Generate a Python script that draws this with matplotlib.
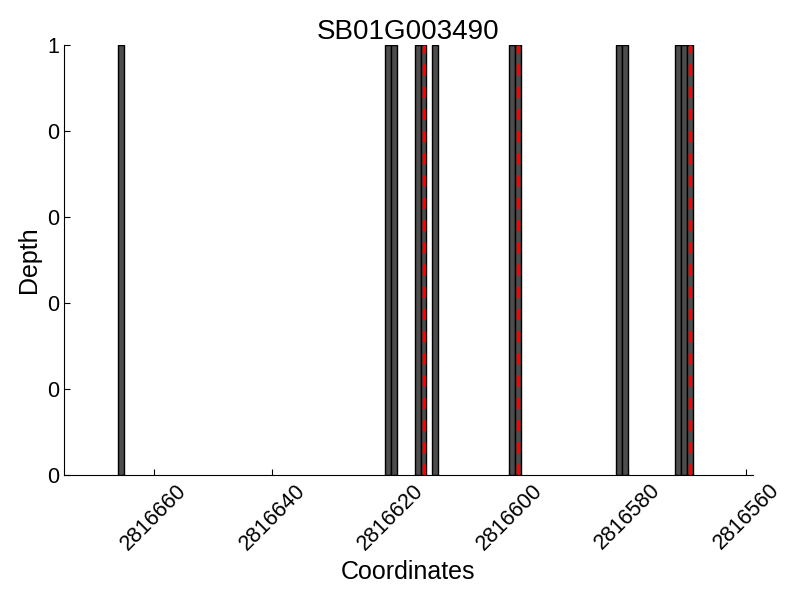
import numpy as np
import matplotlib
matplotlib.use("Agg")
import matplotlib.pyplot as plt
from matplotlib.ticker import FormatStrFormatter

plt.rcParams['font.family'] = ['Liberation Sans', 'DejaVu Sans']

# Données : positions couvertes (profondeur 1) et variants
positions = [2816665, 2816620, 2816619, 2816615, 2816614, 2816612,
             2816599, 2816598, 2816581, 2816580, 2816571, 2816570, 2816569]
depth = [1, 1, 1, 1, 1, 1, 1, 1, 1, 1, 1, 1, 1]
variants = [2816614, 2816598, 2816569]
xticks = [2816660, 2816640, 2816620, 2816600, 2816580, 2816560]
gene = "SB01G003490"

fig = plt.figure(figsize=(8, 6), dpi=100)
ax = fig.add_axes([0.08, 0.2083, 0.861, 0.7167])

ax.bar(positions, depth, width=1, align='edge',
       color='#4d4d4d', edgecolor='black', linewidth=1)
for v in variants:
    ax.axvline(v + 0.5, color='red', linestyle='--', linewidth=2,
               dashes=(4, 4))

ax.set_xlim(2816675.2, 2816558.9)
ax.set_ylim(0, 1)
ax.set_xticks(xticks)
ax.set_xticklabels([str(t) for t in xticks], rotation=45, fontsize=15.5)
ax.set_yticks(np.linspace(0, 1, 6))
ax.yaxis.set_major_formatter(FormatStrFormatter('%d'))
ax.tick_params(axis='y', labelsize=15.5)
ax.tick_params(direction='in', length=4, top=False, right=False)

ax.spines['top'].set_visible(False)
ax.spines['right'].set_visible(False)

ax.set_title(gene, fontsize=20, pad=3)
ax.set_xlabel("Coordinates", fontsize=18)
ax.set_ylabel("Depth", fontsize=18)

fig.savefig("out.png", dpi=100)
